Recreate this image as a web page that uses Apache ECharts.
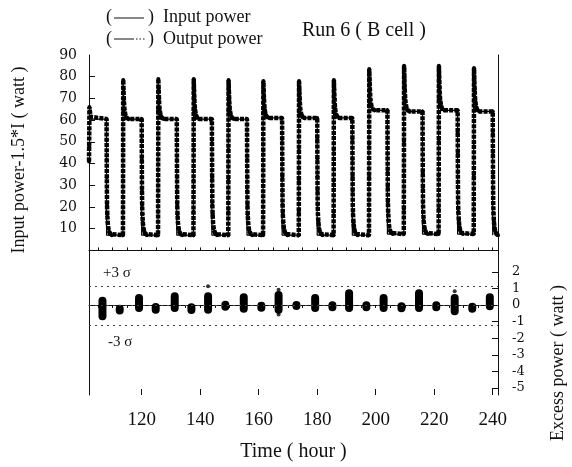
<!DOCTYPE html>
<html>
<head>
<meta charset="utf-8">
<script src="https://cdn.jsdelivr.net/npm/echarts@6/dist/echarts.min.js"></script>
<style>
html, body { margin: 0; padding: 0; background: #fff; }
#chart { width: 572px; height: 467px; }
</style>
</head>
<body>
<div id="chart"></div>
<script>
// axis ticks / labels
var xTickLabels = [120, 140, 160, 180, 200, 220, 240];
var xMinorTicks = [105, 110, 115, 120, 125, 130, 135, 140, 145, 150, 155, 160, 165, 170,
  175, 180, 185, 190, 195, 200, 205, 210, 215, 220, 225, 230, 235, 240];
var powerLabels = [10, 20, 30, 40, 50, 60, 70, 80, 90];
var powerTicks = [10, 20, 30, 40, 50, 60, 70, 80];
var excessLabels = [-5, -4, -3, -2, -1, 0, 1, 2];

// heater cycles (hour / watt)
var fallTimes = [108, 120, 132, 144, 156, 168, 180, 192, 204, 216, 228, 240];
var riseTimes = [113.6, 125.6, 137.7, 149.6, 161.5, 173.7, 185.6, 197.7, 209.6, 221.5, 233.5];
var plateauLevels = [60.5, 60.5, 60.5, 60.5, 60.5, 61, 61, 61, 64.5, 64, 64.5, 64];
var peakLevels = [78.5, 79, 79, 78.5, 78, 78, 78.5, 83.5, 85, 85, 84];
var lowLevels = [7, 7, 7, 7, 7, 7, 7, 7, 7.5, 7.5, 7.5, 7];

// start of run (left edge)
var startT = [102.0, 102.05, 102.1, 102.15, 102.3, 102.6];
var startV = [41, 48, 56, 66, 64, 61.5];

// edge shapes of the output trace
var fallDt = [0, 0.03, 0.06, 0.09, 0.12, 0.16, 0.25, 0.4, 0.6, 0.9, 1.3, 1.8];
var fallFrac = [1, 0.82, 0.65, 0.5, 0.38, 0.26, 0.18, 0.11, 0.06, 0.03, 0.01, 0];
var riseDt = [0, 0.02, 0.04, 0.06, 0.08, 0.1];
var riseFrac = [0, 0.15, 0.35, 0.55, 0.8, 1];
var decayDt = [0.2, 0.32, 0.5, 0.85, 1.3, 2.0];
var decayFrac = [0.75, 0.5, 0.25, 0.1, 0.03, 0];

// excess power clusters
var excessT = [106.6, 112.5, 119.1, 124.8, 131.3, 137.0, 142.7, 148.6, 154.9, 160.9, 166.8, 172.9,
  179.3, 185.2, 190.9, 196.8, 202.7, 208.8, 214.8, 220.7, 227.0, 233.0, 239.0];
var excessTop = [0.26, -0.22, 0.42, -0.12, 0.52, -0.14, 0.52, 0.02, 0.46, -0.04, 0.6, 0,
  0.42, -0.02, 0.7, -0.02, 0.42, -0.08, 0.7, -0.02, 0.42, -0.1, 0.46];
var excessBottom = [-0.68, -0.34, -0.18, -0.28, -0.18, -0.3, -0.28, -0.1, -0.22, -0.16, -0.28, -0.06,
  -0.18, -0.14, -0.18, -0.14, -0.18, -0.2, -0.18, -0.14, -0.38, -0.22, -0.08];
var strayT = [142.7, 166.8, 166.8, 227.0];
var strayV = [1.12, 0.92, -0.58, 0.82];
var sigmaLevels = [1.1, 0, -1.2];

var serif = '"Liberation Serif", "Times New Roman", serif';
var bookFont = '"DejaVu Serif", serif';

// build traces
var inputData = [[startT[0], plateauLevels[0]]];
var outputData = startT.map(function (t, k) { return [t, startV[k]]; });
for (var i = 0; i < fallTimes.length; i++) {
  var f = fallTimes[i], lo = lowLevels[i], pl = plateauLevels[i];
  inputData.push([f, pl], [f, lo]);
  fallDt.forEach(function (d, k) {
    outputData.push([f + d, lo + fallFrac[k] * (pl - lo)]);
  });
  if (i < riseTimes.length) {
    var r = riseTimes[i], pk = peakLevels[i], next = plateauLevels[i + 1];
    inputData.push([r, lo], [r, pk]);
    riseDt.forEach(function (d, k) {
      outputData.push([r + d, lo + riseFrac[k] * (pk - lo)]);
    });
    decayDt.forEach(function (d, k) {
      var v = next + decayFrac[k] * (pk - next);
      inputData.push([r + d, v]);
      outputData.push([r + d, v]);
    });
  }
}

var excessData = [];
excessT.forEach(function (t, k) {
  excessData.push([t, excessTop[k]], [t, excessBottom[k]], [t, '-']);
});
var strayData = strayT.map(function (t, k) { return [t, strayV[k]]; });

var chart = echarts.init(document.getElementById('chart'));
var xBase = { type: 'value', min: 102, max: 241.8, splitLine: { show: false } };
var black = '#111';

chart.setOption({
  animation: false,
  backgroundColor: '#fff',
  grid: { left: 89, right: 74, top: 55, bottom: 70 },
  xAxis: [
    Object.assign({}, xBase, {
      position: 'bottom',
      axisLine: { lineStyle: { color: black, width: 1 } },
      axisTick: { inside: true, length: 3, customValues: xMinorTicks, lineStyle: { color: black } },
      axisLabel: { customValues: xTickLabels, fontFamily: serif, fontSize: 19, color: black, margin: 16 },
      name: 'Time ( hour )',
      nameLocation: 'middle',
      nameGap: 47,
      nameTextStyle: { fontFamily: serif, fontSize: 20, color: black }
    }),
    Object.assign({}, xBase, {
      position: 'top',
      axisLine: { lineStyle: { color: black, width: 1 } },
      axisTick: { inside: true, length: 3, customValues: xMinorTicks, lineStyle: { color: black } },
      axisLabel: { show: false }
    }),
    Object.assign({}, xBase, {
      position: 'bottom',
      axisLine: { show: false },
      axisTick: { inside: true, length: 6, customValues: xTickLabels, lineStyle: { color: black } },
      axisLabel: { show: false }
    })
  ],
  yAxis: [
    {
      type: 'value', position: 'left', min: -66.6, max: 90,
      splitLine: { show: false },
      axisLine: { show: true, lineStyle: { color: black, width: 1 } },
      axisTick: { show: true, inside: true, length: 6, customValues: powerTicks, lineStyle: { color: black } },
      axisLabel: { customValues: powerLabels, fontFamily: bookFont, fontSize: 14, color: black, margin: 12 }
    },
    {
      type: 'value', position: 'right', min: -5.42, max: 15.05,
      splitLine: { show: false },
      axisLine: { show: true, lineStyle: { color: black, width: 1 } },
      axisTick: { show: true, inside: true, length: 6, customValues: excessLabels, lineStyle: { color: black } },
      axisLabel: { customValues: excessLabels, fontFamily: bookFont, fontSize: 13, color: black, margin: 14 }
    }
  ],
  series: [
    {
      name: 'Input power', type: 'line', xAxisIndex: 0, yAxisIndex: 0,
      data: inputData, showSymbol: false, clip: true, z: 3,
      lineStyle: { color: '#000', width: 1.2 }
    },
    {
      name: 'Output power', type: 'line', xAxisIndex: 0, yAxisIndex: 0,
      data: outputData, symbol: 'circle', symbolSize: 4, showSymbol: true, clip: true, z: 2,
      itemStyle: { color: '#000' },
      lineStyle: { color: '#000', width: 4.5, type: [4, 1.2] }
    },
    {
      name: 'Excess power', type: 'line', xAxisIndex: 0, yAxisIndex: 1,
      data: excessData, showSymbol: false, connectNulls: false, clip: true,
      lineStyle: { color: '#000', width: 8, cap: 'round' },
      markLine: {
        silent: true, symbol: ['none', 'none'], label: { show: false },
        lineStyle: { color: '#444', width: 1, type: [2, 4] },
        data: sigmaLevels.map(function (v) { return { yAxis: v }; })
      }
    },
    {
      name: 'Excess stray', type: 'scatter', xAxisIndex: 0, yAxisIndex: 1,
      data: strayData, symbolSize: 4, itemStyle: { color: '#000' }
    }
  ],
  graphic: [
    { type: 'text', left: 302, top: 21, style: { text: 'Run 6 ( B cell )', font: '20px ' + serif, fill: black } },
    // legend
    { type: 'text', left: 106, top: 8, style: { text: '(', font: '18px ' + serif, fill: black } },
    { type: 'line', shape: { x1: 114, y1: 18, x2: 144, y2: 18 }, style: { stroke: black, lineWidth: 1 } },
    { type: 'text', left: 148, top: 8, style: { text: ')  Input power', font: '18px ' + serif, fill: black } },
    { type: 'text', left: 106, top: 30, style: { text: '(', font: '18px ' + serif, fill: black } },
    { type: 'line', shape: { x1: 114, y1: 39, x2: 134, y2: 39 }, style: { stroke: black, lineWidth: 1 } },
    { type: 'line', shape: { x1: 136, y1: 39, x2: 146, y2: 39 }, style: { stroke: black, lineWidth: 1, lineDash: [1.5, 2] } },
    { type: 'text', left: 148, top: 30, style: { text: ')  Output power', font: '18px ' + serif, fill: black } },
    // axis names
    {
      type: 'text', x: 19, y: 160, rotation: Math.PI / 2,
      style: { text: 'Input power-1.5*I ( watt )', font: '18px ' + serif, fill: black, align: 'center', verticalAlign: 'middle' }
    },
    {
      type: 'text', x: 558, y: 363, rotation: Math.PI / 2,
      style: { text: 'Excess power ( watt )', font: '18px ' + serif, fill: black, align: 'center', verticalAlign: 'middle' }
    },
    // sigma labels
    { type: 'text', left: 103, top: 266, style: { text: '+3 σ', font: '15px ' + serif, fill: black } },
    { type: 'text', left: 108, top: 335, style: { text: '-3 σ', font: '15px ' + serif, fill: black } }
  ]
});
</script>
</body>
</html>
